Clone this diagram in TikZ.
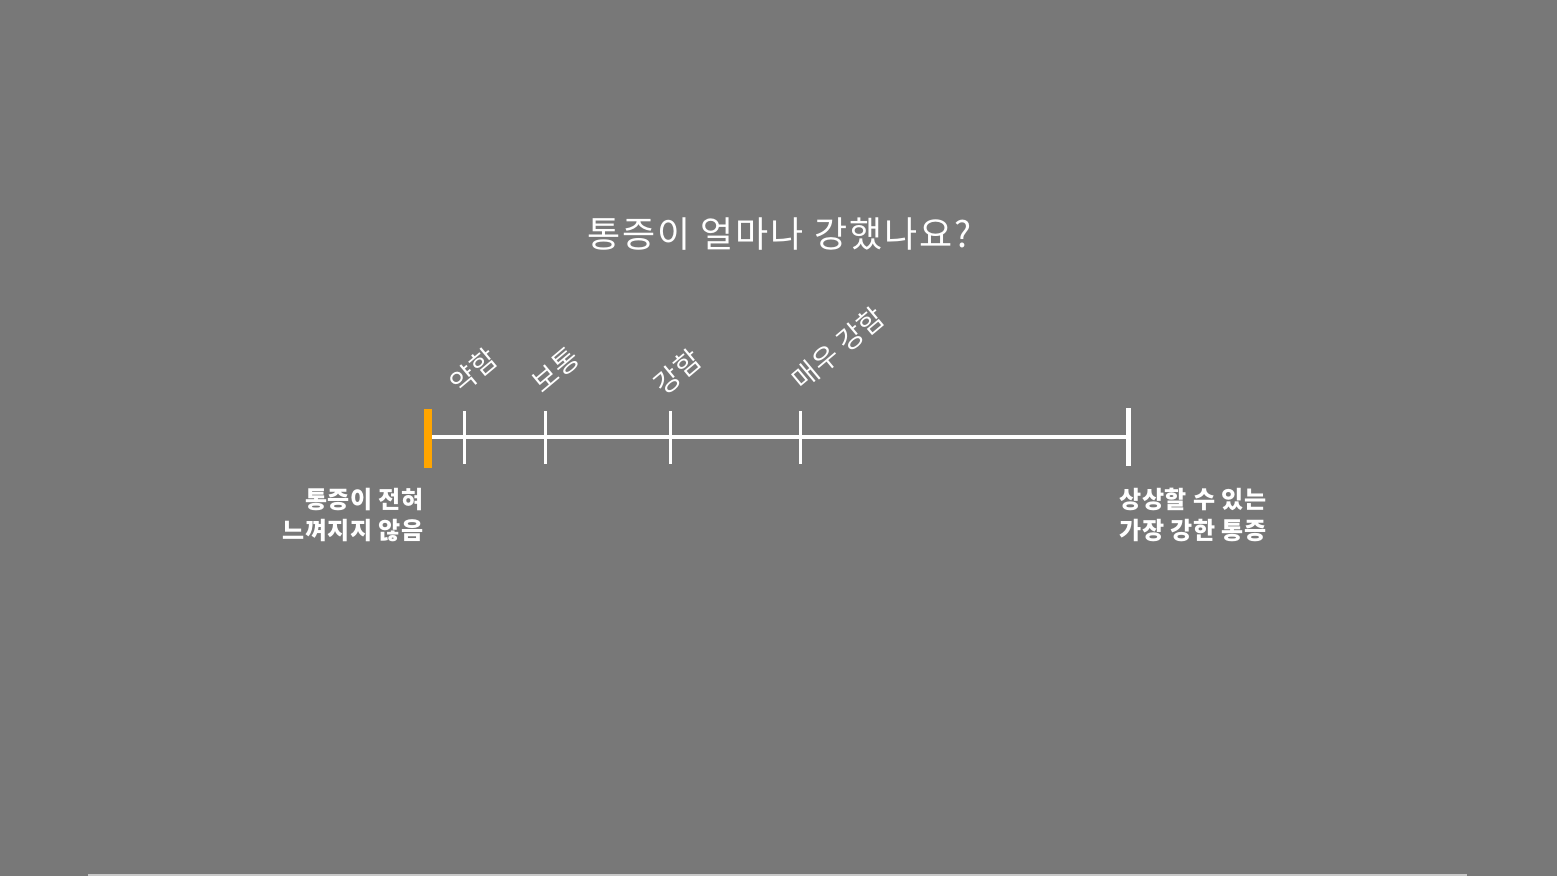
\documentclass[tikz,border=0pt]{standalone}
\usepackage{fontspec}
\newfontfamily\krt{Noto Sans CJK KR}[LetterSpace=5.5]
\newfontfamily\kr{Noto Sans CJK KR}[LetterSpace=4]
\newfontfamily\krb{Noto Sans CJK KR}[LetterSpace=3]
\definecolor{bg}{RGB}{120,120,120}
\definecolor{orangebar}{RGB}{255,165,0}
\definecolor{edgeline}{RGB}{200,200,200}
\begin{document}
\begin{tikzpicture}[x=1pt,y=-1pt,
  title/.style={font=\krt\fontsize{36}{40}\selectfont, text=white, inner sep=0pt},
  ticklabel/.style={font=\kr\fontsize{27.5}{31}\selectfont, text=white, inner sep=0pt, rotate=40, anchor=base west},
  endlabel/.style={font=\krb\bfseries\fontsize{24}{31}\selectfont, text=white, inner sep=0pt},
  tickmark/.style={draw=white, line width=3pt},
  scaleline/.style={draw=white, line width=3.5pt}]
\fill[bg] (0,0) rectangle (1557,876);
\useasboundingbox (0,0) rectangle (1557,876);
\draw[edgeline, line width=1.5pt] (88,875) -- (1467,875);

\node[title, anchor=base] (t) at (779.5,247) {통증이 얼마나 강했나요?};

% scale
\coordinate (s0) at (432,437);
\coordinate (s1) at (1128,437);
\draw[scaleline] (s0) -- (s1);
\fill[orangebar] (424,409) rectangle (432,468);
\coordinate (k1t) at (464,411); \coordinate (k1b) at (464,464);
\coordinate (k2t) at (545,411); \coordinate (k2b) at (545,464);
\coordinate (k3t) at (670,411); \coordinate (k3b) at (670,464);
\coordinate (k4t) at (800,411); \coordinate (k4b) at (800,464);
\coordinate (ket) at (1128,408); \coordinate (keb) at (1128,466);
\draw[tickmark] (k1t) -- (k1b);
\draw[tickmark] (k2t) -- (k2b);
\draw[tickmark] (k3t) -- (k3b);
\draw[tickmark] (k4t) -- (k4b);
\draw[draw=white, line width=5pt] (ket) -- (keb);

\node[ticklabel] (l1) at (460,396) {약함};
\node[ticklabel] (l2) at (542,395) {보통};
\node[ticklabel] (l3) at (664,397) {강함};
\node[ticklabel] (l4) at (802,392) {매우 강함};

\node[endlabel, anchor=north east, align=right] (lo) at (424,488) {통증이 전혀\\느껴지지 않음};
\node[endlabel, anchor=north west, align=left] (hi) at (1119,488) {상상할 수 있는\\가장 강한 통증};
\end{tikzpicture}
\end{document}
